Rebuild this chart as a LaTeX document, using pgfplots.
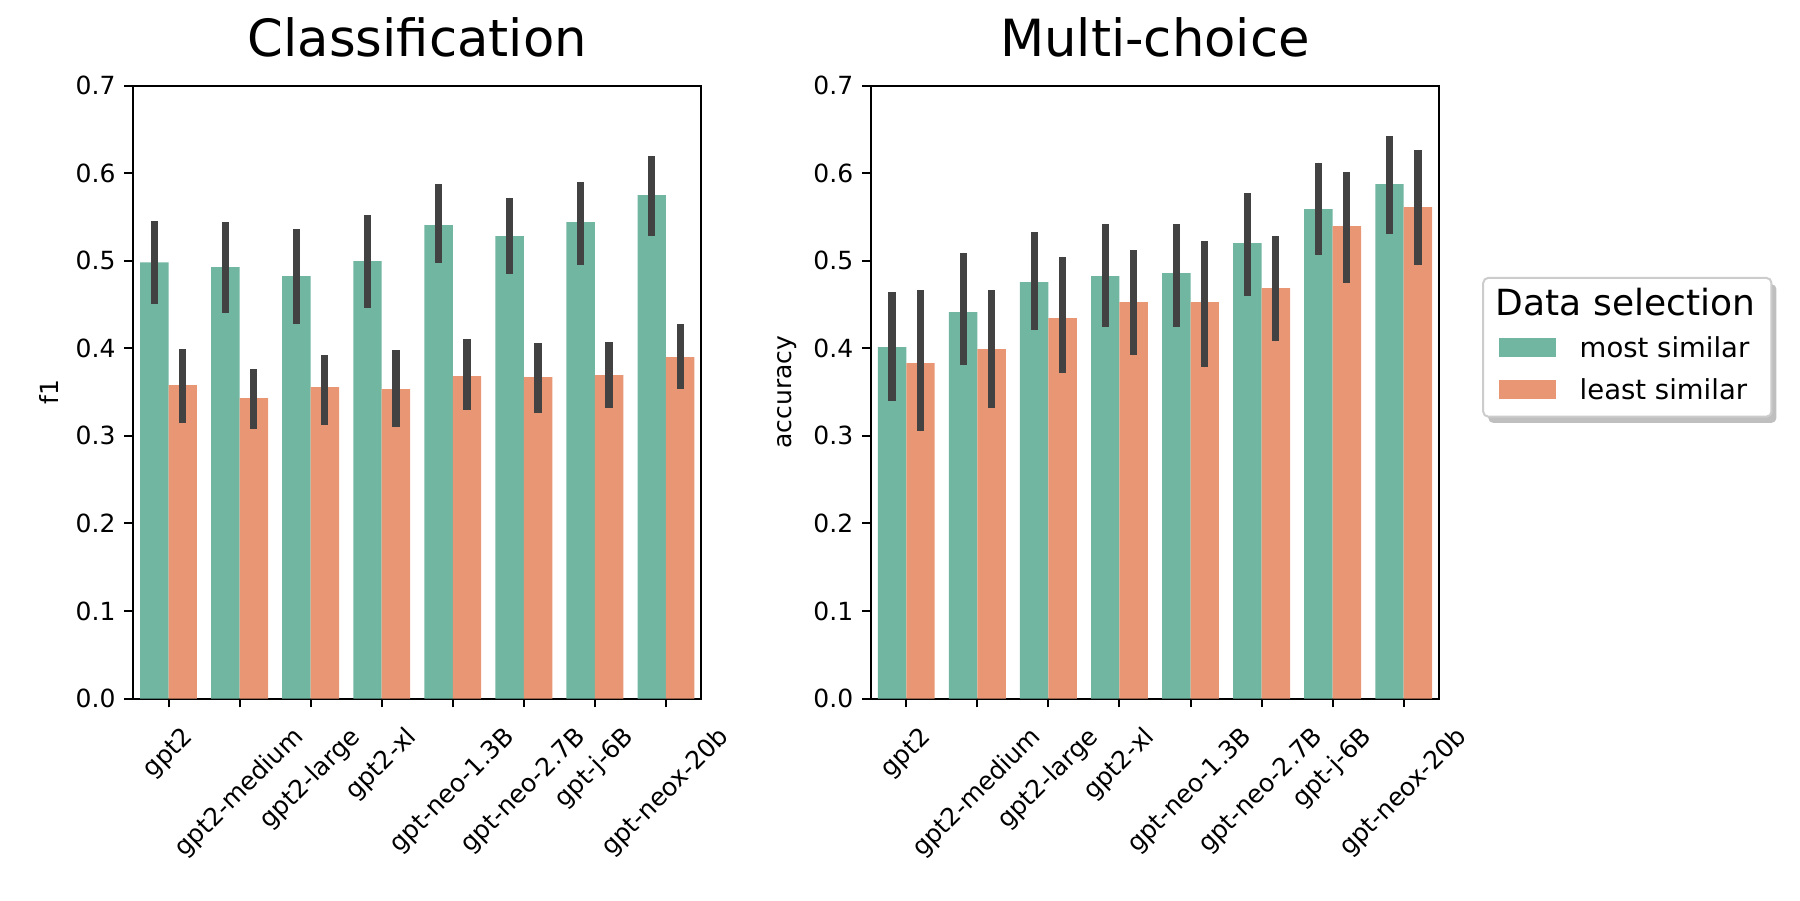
\documentclass[border=0pt]{standalone}
\usepackage{pgfplots}
\pgfplotsset{compat=1.18}
\usepackage{pgfplotstable}
\usepackage{fontspec}
\setmainfont{DejaVu Sans}
\usetikzlibrary{shadows}
\definecolor{most}{HTML}{71B6A1}
\definecolor{least}{HTML}{E99675}
\definecolor{errc}{HTML}{424242}

\makeatletter
\tikzset{no preactions/.code={\let\tikz@preactions\pgfutil@empty}}
\makeatother

\newsavebox\rlbox
\newlength\rldim
\newcommand\rlpad{9.9pt}
\newcommand\rl[1]{%
 \sbox\rlbox{#1}%
 \setlength\rldim{\dimexpr(\wd\rlbox+\ht\rlbox+\dp\rlbox)/2+\rlpad\relax}%
 \rule{0pt}{\dimexpr\ht\rlbox+\rldim\relax}\usebox\rlbox\hspace*{\rldim}}

\pgfplotstableread{
x y lo hi
0 0.4980 0.4510 0.5455
1 0.4926 0.4397 0.5436
2 0.4823 0.4271 0.5363
3 0.4994 0.4454 0.5523
4 0.5405 0.4971 0.5881
5 0.5280 0.4842 0.5721
6 0.5440 0.4956 0.5900
7 0.5748 0.5276 0.6200
}\clsmost
\pgfplotstableread{
x y lo hi
0 0.3578 0.3145 0.3993
1 0.3430 0.3076 0.3765
2 0.3556 0.3129 0.3925
3 0.3533 0.3095 0.3982
4 0.3681 0.3290 0.4100
5 0.3670 0.3266 0.4054
6 0.3693 0.3312 0.4066
7 0.3898 0.3540 0.4271
}\clsleast
\pgfplotstableread{
x y lo hi
0 0.4012 0.3392 0.4637
1 0.4412 0.3803 0.5093
2 0.4755 0.4203 0.5322
3 0.4823 0.4245 0.5424
4 0.4857 0.4245 0.5413
5 0.5200 0.4602 0.5767
6 0.5588 0.5059 0.6120
7 0.5873 0.5310 0.6418
}\mcmost
\pgfplotstableread{
x y lo hi
0 0.3830 0.3050 0.4660
1 0.3990 0.3323 0.4660
2 0.4343 0.3712 0.5044
3 0.4526 0.3917 0.5116
4 0.4526 0.3780 0.5219
5 0.4686 0.4077 0.5287
6 0.5394 0.4750 0.6007
7 0.5610 0.4945 0.6258
}\mcleast

\pgfplotsset{
 ybar legend/.style={/pgfplots/legend image code/.code={\path[##1,draw=none,sharp corners,no preactions] (0pt,-3.75pt) rectangle (22.5pt,3.75pt);}},
 mybar/.style={
  scale only axis, width=227.4pt, height=245.2pt,
  xmin=-0.5, xmax=7.5, ymin=0, ymax=0.7,
  ytick={0,0.1,0.2,0.3,0.4,0.5,0.6,0.7},
  xtick={0,1,2,3,4,5,6,7},
  xticklabels={\rl{gpt2},\rl{gpt2-medium},\rl{gpt2-large},\rl{gpt2-xl},\rl{gpt-neo-1.3B},\rl{gpt-neo-2.7B},\rl{gpt-j-6B},\rl{gpt-neox-20b}},
  tick align=outside, tick pos=left,
  major tick length=3.5pt,
  every tick/.style={black, line width=0.8pt},
  axis line style={line width=0.8pt},
  yticklabel style={/pgf/number format/.cd, fixed, fixed zerofill, precision=1},
  /pgf/number format/assume math mode=true,
  ticklabel style={font=\fontsize{10}{12}\selectfont},
  xticklabel style={rotate=45, anchor=center, inner sep=0pt},
  label style={font=\fontsize{10}{12}\selectfont},
  title style={font=\fontsize{20.5}{24}\selectfont, at={(0.5,1)}, anchor=base, yshift=5.5pt},
  ybar, bar width=0.4,
 },
 errs/.style={error bars/.cd, y dir=both, y explicit, error mark=none,
   error bar style={line width=2.9pt, errc}},
}

\begin{document}
\begin{tikzpicture}
\path[use as bounding box] (0,0) rectangle (720pt,360pt);

\begin{axis}[mybar, at={(53.2pt,80.6pt)}, anchor=south west,
  title={Classification}, ylabel={f1}]
\addplot[fill=most, draw=none, bar shift=-0.2, errs]
  table[x=x, y=y, y error plus expr=\thisrow{hi}-\thisrow{y}, y error minus expr=\thisrow{y}-\thisrow{lo}] {\clsmost};
\addplot[fill=least, draw=none, bar shift=0.2, errs]
  table[x=x, y=y, y error plus expr=\thisrow{hi}-\thisrow{y}, y error minus expr=\thisrow{y}-\thisrow{lo}] {\clsleast};
\end{axis}

\begin{axis}[mybar, at={(348.3pt,80.6pt)}, anchor=south west,
  title={Multi-choice}, ylabel={accuracy},
  legend style={at={(1,0.573)}, anchor=west, xshift=17.2pt,
    draw=black!20, line width=0.8pt, fill=white, rounded corners=2pt,
    drop shadow={shadow xshift=2pt, shadow yshift=-2.5pt, fill=black!50},
    inner xsep=6.5pt, inner ysep=4.2pt, row sep=3.3pt, column sep=9.6pt,
    font=\fontsize{11}{13}\selectfont,
    nodes={inner sep=0pt, text height=11pt, text depth=2.5pt}},
  legend cell align=left,
  legend entries={{\hspace*{-33.5pt}\fontsize{14.4}{17}\selectfont Data selection}, most similar, least similar}]
\addlegendimage{empty legend}
\addplot[fill=most, draw=none, bar shift=-0.2, errs]
  table[x=x, y=y, y error plus expr=\thisrow{hi}-\thisrow{y}, y error minus expr=\thisrow{y}-\thisrow{lo}] {\mcmost};
\addplot[fill=least, draw=none, bar shift=0.2, errs]
  table[x=x, y=y, y error plus expr=\thisrow{hi}-\thisrow{y}, y error minus expr=\thisrow{y}-\thisrow{lo}] {\mcleast};
\end{axis}
\end{tikzpicture}
\end{document}
